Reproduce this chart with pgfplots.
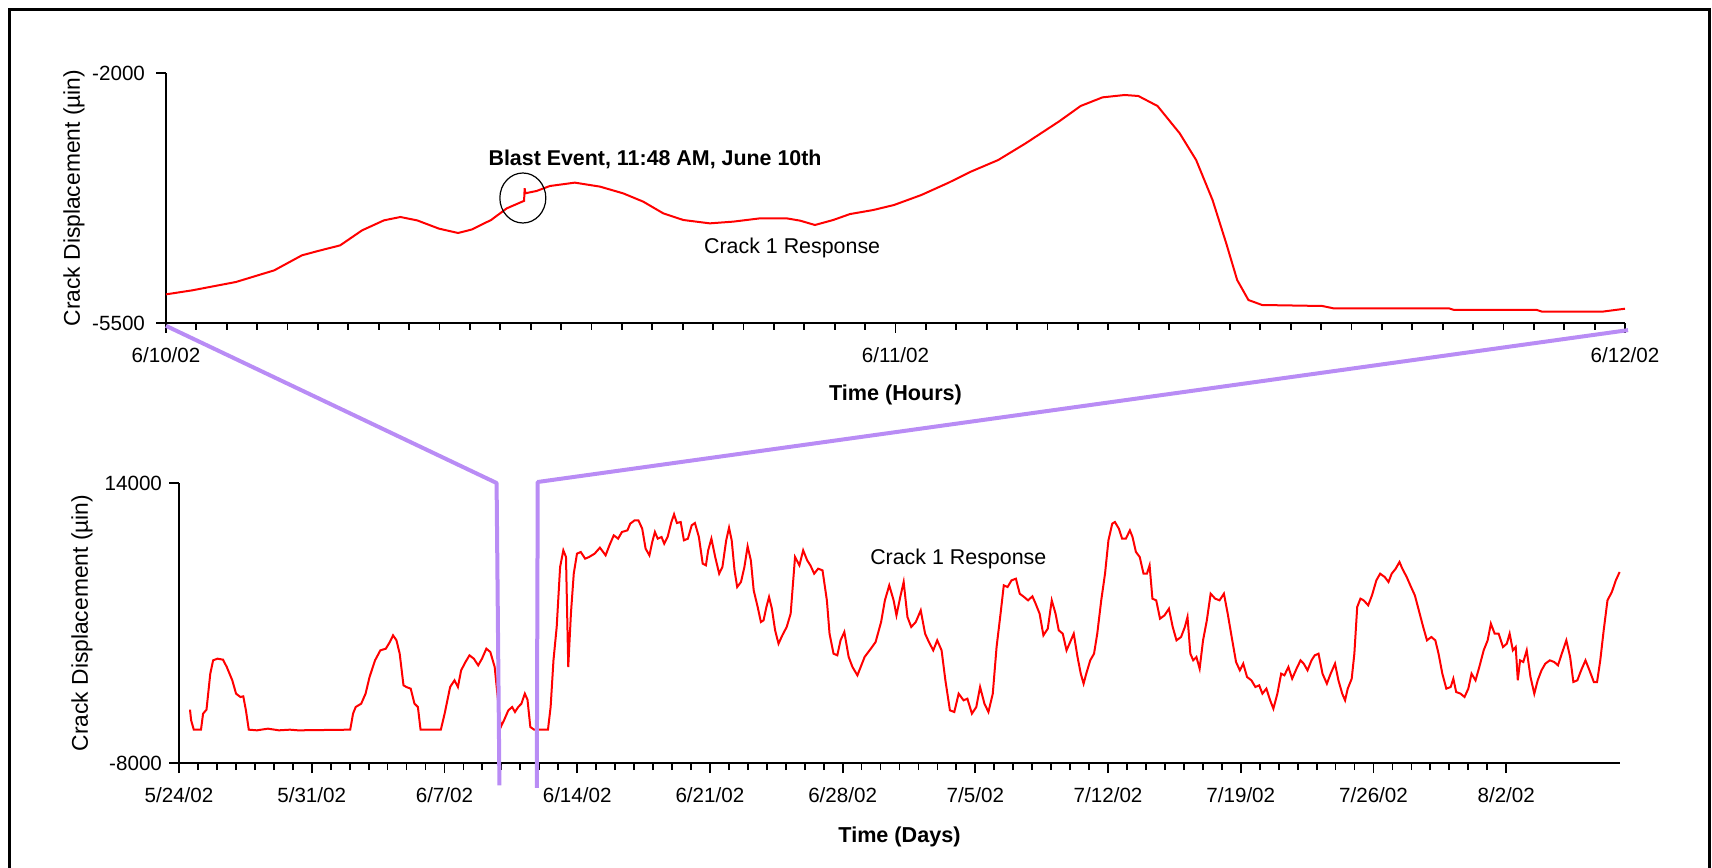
\documentclass[border=0pt]{standalone}
\usepackage{pgfplots}
\pgfplotsset{compat=1.18}
\usepackage{fontspec}
\setmainfont{Liberation Sans}
\definecolor{zoomlav}{RGB}{185,140,245}
\pgfplotstableread{
h v
0 -5099
0.86 -5043
2.3 -4926
3.56 -4763
4.47 -4553
5.0 -4492
5.73 -4413
6.45 -4203
7.17 -4063
7.71 -4016
8.26 -4063
8.98 -4179
9.61 -4240
10.07 -4190
10.44 -4110
10.69 -4060
11.21 -3895
11.78 -3790
11.80 -3614
11.82 -3684
12.19 -3652
12.63 -3582
13.45 -3535
14.28 -3591
15.04 -3685
15.70 -3801
16.36 -3965
17.02 -4058
17.89 -4105
18.66 -4081
19.54 -4035
20.42 -4035
20.86 -4067
21.35 -4128
21.95 -4058
22.5 -3975
23.27 -3918
23.95 -3848
24.85 -3708
25.75 -3535
26.48 -3381
27.38 -3218
28.28 -2985
29.37 -2681
30.09 -2462
30.81 -2341
31.54 -2308
31.99 -2322
32.62 -2462
33.35 -2845
33.89 -3218
34.43 -3778
34.88 -4384
35.24 -4898
35.61 -5178
36.06 -5248
38.04 -5262
38.40 -5294
42.20 -5294
42.38 -5318
45.1 -5318
45.27 -5341
47.26 -5341
48 -5300
}\hourly
\pgfplotstableread{
d v
0.58 -3809
0.64 -4647
0.78 -5381
1.16 -5381
1.27 -4123
1.45 -3809
1.65 -981
1.80 67
2.03 198
2.32 119
2.52 -457
2.81 -1504
3.01 -2552
3.24 -2814
3.39 -2762
3.53 -3862
3.68 -5381
4.11 -5433
4.69 -5302
5.27 -5433
5.85 -5381
6.28 -5433
9.03 -5381
9.18 -4123
9.32 -3600
9.61 -3338
9.84 -2552
10.05 -1243
10.34 67
10.62 852
10.91 983
11.12 1507
11.29 2031
11.47 1638
11.64 590
11.84 -1897
11.99 -2028
12.22 -2159
12.42 -3338
12.60 -3600
12.74 -5381
13.81 -5381
14.01 -4123
14.30 -2028
14.53 -1504
14.71 -2028
14.88 -719
15.11 -64
15.32 460
15.55 198
15.78 -326
15.98 198
16.21 983
16.42 721
16.65 -457
16.79 -2552
16.97 -5171
17.14 -4647
17.37 -3862
17.57 -3600
17.72 -3993
17.89 -3600
18.06 -3338
18.24 -2552
18.38 -3024
18.53 -5171
18.73 -5381
19.46 -5381
19.60 -3600
19.75 67
19.92 2686
20.10 7400
20.27 8710
20.41 8186
20.53 -457
20.67 3734
20.82 6877
20.99 8448
21.19 8579
21.42 8055
21.63 8186
21.92 8448
22.20 8919
22.50 8317
22.70 9102
22.93 9888
23.16 9626
23.36 10150
23.65 10281
23.80 10805
24.03 11067
24.23 11067
24.43 10412
24.61 8840
24.81 8317
24.96 9364
25.10 10150
25.25 9626
25.45 9757
25.59 9233
25.77 9757
25.97 10936
26.11 11538
26.26 10857
26.46 10936
26.63 9495
26.84 9626
27.04 10674
27.21 10857
27.42 9757
27.62 7662
27.79 7531
27.91 8710
28.08 9626
28.28 8186
28.49 6877
28.66 7400
28.86 9495
29.01 10490
29.15 9495
29.30 7138
29.44 5828
29.64 6222
29.82 7400
29.99 9024
30.16 7924
30.31 5567
30.52 4257
30.69 3079
30.83 3210
30.98 4257
31.12 5043
31.27 4126
31.44 2424
31.62 1376
31.82 2031
32.05 2686
32.26 3734
32.49 8186
32.72 7531
32.92 8710
33.13 7924
33.30 7531
33.50 6877
33.71 7269
33.94 7138
34.17 4781
34.31 2162
34.52 590
34.72 460
34.89 1638
35.09 2293
35.32 329
35.52 -457
35.78 -1112
36.16 329
36.45 905
36.74 1507
37.03 3079
37.23 4781
37.46 5959
37.69 4781
37.84 3603
38.04 5043
38.22 6222
38.42 3472
38.62 2686
38.86 3079
39.12 3995
39.35 2162
39.55 1507
39.78 852
39.99 1638
40.22 852
40.42 -1504
40.66 -3862
40.89 -3993
41.12 -2552
41.38 -3076
41.58 -2945
41.82 -4123
42.05 -3600
42.25 -2028
42.48 -3338
42.69 -3993
42.92 -2552
43.12 1114
43.33 3734
43.50 5959
43.70 5828
43.91 6352
44.14 6484
44.34 5305
44.57 5043
44.78 4781
45.01 5095
45.18 4519
45.39 3734
45.59 2031
45.82 2555
46.03 4781
46.23 3734
46.40 2424
46.61 2162
46.81 852
47.04 1638
47.19 2162
47.39 329
47.56 -981
47.71 -1767
47.85 -981
48.06 67
48.26 590
48.43 2162
48.64 4781
48.84 6877
49.02 9495
49.22 10805
49.36 10936
49.57 10412
49.74 9626
49.94 9626
50.15 10281
50.29 9757
50.47 8579
50.67 8186
50.87 6877
51.05 6877
51.19 7531
51.34 4912
51.54 4781
51.74 3341
51.98 3603
52.21 4126
52.41 2686
52.61 1638
52.85 1900
53.05 2686
53.19 3472
53.34 590
53.49 67
53.66 329
53.83 -588
54.01 1638
54.21 3210
54.41 5305
54.65 4912
54.88 4781
55.11 5305
55.31 3734
55.52 1900
55.75 -64
55.95 -719
56.13 -195
56.33 -1243
56.56 -1504
56.77 -2028
56.97 -1897
57.14 -2552
57.35 -2159
57.55 -3076
57.72 -3731
57.93 -2552
58.13 -981
58.30 -1112
58.51 -457
58.71 -1374
58.94 -588
59.15 67
59.32 -195
59.52 -719
59.73 67
59.90 460
60.10 590
60.31 -981
60.54 -1767
60.74 -981
60.97 -195
61.15 -1504
61.35 -2552
61.50 -3076
61.64 -2159
61.85 -1374
61.99 590
62.14 4257
62.31 4912
62.48 4781
62.72 4388
62.92 5174
63.15 6352
63.35 6877
63.59 6615
63.79 6222
63.96 6877
64.17 7269
64.37 7793
64.52 7269
64.75 6615
64.98 5828
65.18 5174
65.39 3995
65.62 2686
65.82 1638
66.05 1900
66.26 1638
66.43 590
66.63 -981
66.84 -2159
67.07 -2028
67.21 -1374
67.36 -2421
67.59 -2552
67.80 -2814
68.00 -2159
68.17 -981
68.38 -1504
68.58 -457
68.81 852
69.02 1638
69.19 2948
69.39 2162
69.60 2162
69.83 1114
70.03 1376
70.18 2162
70.35 852
70.50 1114
70.61 -1504
70.73 67
70.90 -64
71.08 852
71.28 -1243
71.48 -2552
71.66 -1504
71.86 -719
72.06 -195
72.30 67
72.53 -64
72.73 -326
72.93 590
73.17 1638
73.37 329
73.54 -1636
73.75 -1504
73.95 -719
74.18 67
74.39 -719
74.62 -1636
74.79 -1636
74.96 67
75.14 2424
75.34 4781
75.57 5436
75.78 6352
75.98 7007
}\daily
\begin{document}
\begin{tikzpicture}
\useasboundingbox (0pt,0pt) rectangle (856pt,433.5pt);
% frame
\draw[line width=1.5pt] (4.5pt,-20pt) -- (4.5pt,428.5pt) -- (854.7pt,428.5pt) -- (854.7pt,-20pt);
\pgfplotsset{
  crack/.style={
    scale only axis,
    axis lines=left,
    axis line style={-, line width=1.3pt},
    tick align=outside,
    tick style={line width=0.9pt, black},
    major tick length=5pt,
    minor tick length=3.5pt,
    clip=false,
    scaled x ticks=false,
    scaled y ticks=false,
    font=\fontsize{10.3}{12}\selectfont,
    tick label style={font=\fontsize{10.3}{12}\selectfont},
    xticklabel style={yshift=-3.8pt},
    every axis x label/.style={font=\fontsize{10.8}{13}\selectfont\bfseries, anchor=center},
    every axis y label/.style={font=\fontsize{11.4}{13}\selectfont, anchor=center, rotate=90},
  }
}
\begin{axis}[crack,
  at={(83pt,272pt)}, anchor=south west,
  width=729.5pt, height=125pt,
  xmin=0, xmax=48, ymin=-5500, ymax=-2000,
  xtick={0,24,48}, xticklabels={6/10/02,6/11/02,6/12/02},
  minor x tick num=23,
  ytick={-5500,-2000}, yticklabels={-5500,-2000},
  yticklabel style={xshift=-2pt},
  xlabel={Time (Hours)}, ylabel={Crack Displacement (µin)},
  every axis x label/.append style={at={(axis description cs:0.5,-0.288)}},
  every axis y label/.append style={at={(axis description cs:-0.0631,0.5)}},
]
\addplot[red, line width=1pt] table[x=h, y=v] {\hourly};
\draw[black, line width=0.6pt] (axis cs:11.74,-3750) ellipse [x radius=11.5pt, y radius=12.5pt];
\node[font=\fontsize{10.7}{12}\selectfont\bfseries] at (axis cs:16.09,-3204) {Blast Event, 11:48 AM, June 10th};
\node[font=\fontsize{10.7}{12}\selectfont] at (axis cs:20.6,-4450) {Crack 1 Response};
\coordinate (T1) at (axis cs:0,-5540);
\coordinate (T2) at (axis cs:48.1,-5600);
\end{axis}
\begin{axis}[crack,
  at={(89.5pt,52pt)}, anchor=south west,
  width=720.5pt, height=140pt,
  xmin=0, xmax=76, ymin=-8000, ymax=14000,
  xtick={0,7,14,21,28,35,42,49,56,63,70},
  xticklabels={5/24/02,5/31/02,6/7/02,6/14/02,6/21/02,6/28/02,7/5/02,7/12/02,7/19/02,7/26/02,8/2/02},
  minor x tick num=6,
  ytick={-8000,14000}, yticklabels={-8000,14000},
  xlabel={Time (Days)}, ylabel={Crack Displacement (µin)},
  every axis x label/.append style={at={(axis description cs:0.5,-0.264)}},
  every axis y label/.append style={at={(axis description cs:-0.0673,0.5)}},
]
\addplot[red, line width=1pt] table[x=d, y=v] {\daily};
\node[font=\fontsize{10.7}{12}\selectfont] at (axis cs:41.1,8029) {Crack 1 Response};
\coordinate (B1) at (axis cs:16.75,14000);
\coordinate (B1b) at (axis cs:16.9,-9750);
\coordinate (B2) at (axis cs:18.92,14080);
\coordinate (B2b) at (axis cs:18.87,-9960);
\end{axis}
\draw[zoomlav, line width=2pt, line join=round] (T1) -- (B1) -- (B1b);
\draw[zoomlav, line width=2pt, line join=round] (T2) -- (B2) -- (B2b);
\end{tikzpicture}
\end{document}
